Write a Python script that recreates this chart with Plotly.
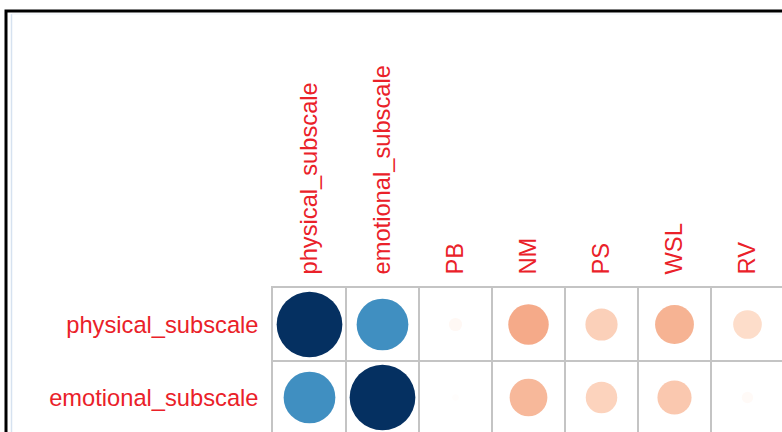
import numpy as np
import plotly.graph_objects as go

col_names = ['physical_subscale', 'emotional_subscale', 'PB', 'NM', 'PS', 'WSL', 'RV']
row_names = ['physical_subscale', 'emotional_subscale']
r_physical = [1.00, 0.62, -0.04, -0.38, -0.24, -0.35, -0.19]
r_emotional = [0.62, 1.00, -0.01, -0.33, -0.23, -0.27, -0.03]

# corrplot's default RdBu ramp, -1 .. +1
rdbu = ['#67001F', '#B2182B', '#D6604D', '#F4A582', '#FDDBC7', '#FFFFFF',
        '#D1E5F0', '#92C5DE', '#4393C3', '#2166AC', '#053061']

W, H = 782, 432
LEFT, TOP = 273, 288
CELL = 73  # px per cell

corr = np.array([r_physical, r_emotional])
xs, ys, vals = [], [], []
for j in range(len(row_names)):
    for i in range(len(col_names)):
        xs.append(i)
        ys.append(j)
        vals.append(corr[j, i])
vals = np.array(vals)

fig = go.Figure()
fig.add_trace(go.Scatter(
    x=xs, y=ys, mode='markers',
    marker=dict(
        size=0.9 * np.sqrt(np.abs(vals)) * CELL,
        sizemode='diameter',
        color=vals, cmin=-1, cmax=1,
        colorscale=[[k / 10, c] for k, c in enumerate(rdbu)],
        line=dict(width=0),
        opacity=1,
    ),
    hoverinfo='skip', showlegend=False,
))

font = dict(family='Liberation Sans, Arial, sans-serif', size=23.7, color='#ea2129')
grid_col = '#c4c4c4'

fig.update_layout(
    width=W, height=H,
    margin=dict(l=LEFT, t=TOP, r=0, b=0, pad=0),
    paper_bgcolor='white', plot_bgcolor='white',
    xaxis=dict(
        side='top', range=[-0.5, -0.5 + (W - LEFT) / CELL],
        tickmode='array', tickvals=list(range(len(col_names))), ticktext=col_names,
        tickangle=-90, tickfont=font, ticks='', ticklabelstandoff=7,
        showgrid=False, zeroline=False,
        showline=True, linecolor=grid_col, linewidth=1.5,
        minor=dict(tickmode='linear', tick0=0.5, dtick=1, showgrid=True,
                   gridcolor=grid_col, gridwidth=1.5, ticks=''),
        fixedrange=True,
    ),
    yaxis=dict(
        range=[-0.5 + (H - TOP) / CELL, -0.5],
        tickmode='array', tickvals=list(range(len(row_names))), ticktext=row_names,
        tickfont=font, ticks='', ticklabelstandoff=8,
        showgrid=False, zeroline=False,
        showline=True, linecolor=grid_col, linewidth=1.5,
        minor=dict(tickmode='linear', tick0=0.5, dtick=1, showgrid=True,
                   gridcolor=grid_col, gridwidth=1.5, ticks=''),
        fixedrange=True,
    ),
)

# black frame of the original image (cropped at right and bottom)
px = lambda v: (v - LEFT) / (W - LEFT)
py = lambda v: 1 - (v - TOP) / (H - TOP)
fig.add_shape(type='rect', xref='paper', yref='paper',
              x0=px(6), x1=px(W + 20), y0=py(H + 20), y1=py(11),
              line=dict(color='black', width=3), layer='above')
fig.add_shape(type='line', xref='paper', yref='paper',
              x0=px(11.5), x1=px(11.5), y0=py(H + 5), y1=py(14),
              line=dict(color='#d6e2f0', width=1.5))
fig.add_shape(type='line', xref='paper', yref='paper',
              x0=px(11.5), x1=px(W + 5), y0=py(14), y1=py(14),
              line=dict(color='#eef3f9', width=1))

fig.write_html('out.html', config={'displayModeBar': False},
               post_script="document.body.style.margin='0px';")
